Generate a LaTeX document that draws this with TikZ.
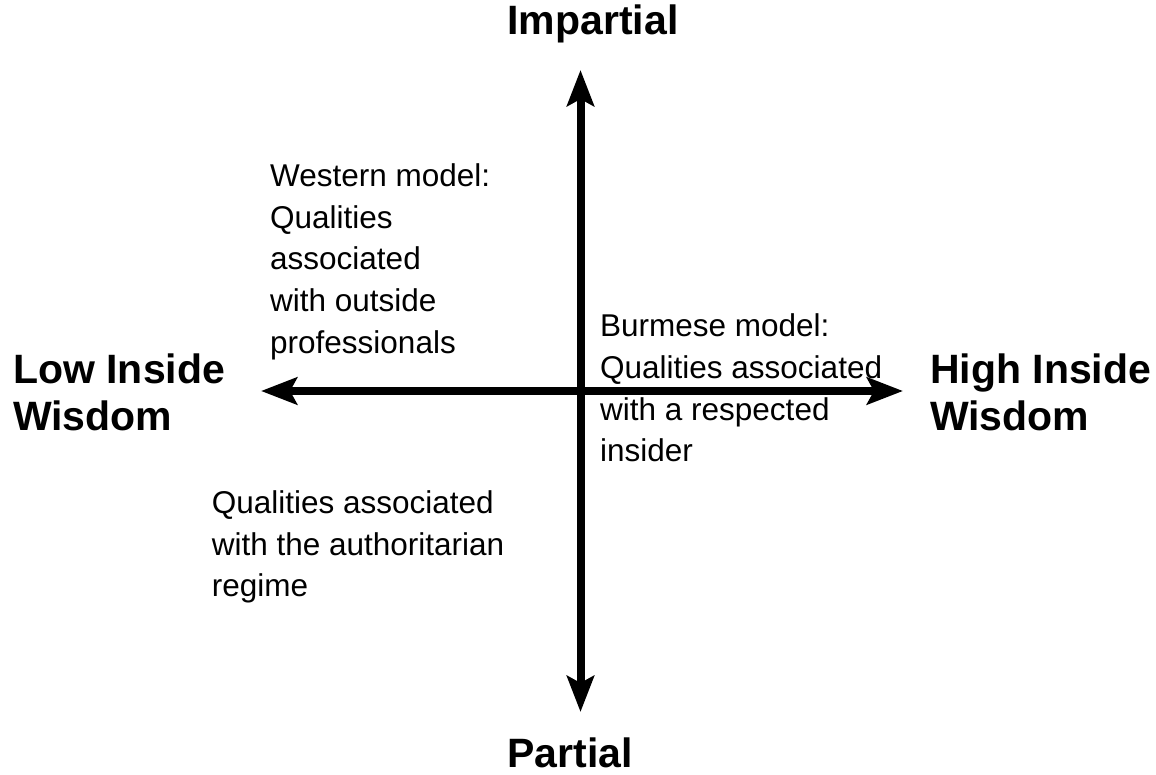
\documentclass[tikz,border=0pt]{standalone}
\usepackage{fontspec}
\setmainfont{Liberation Sans}
\usetikzlibrary{arrows.meta}
\begin{document}
\begin{tikzpicture}[x=1pt, y=-1pt,
    axis/.style={line width=8pt, {Stealth[length=36pt, width=27pt, inset=7pt]}-{Stealth[length=36pt, width=27pt, inset=7pt]}},
    heading/.style={inner sep=0pt, align=left, font=\fontsize{41}{47}\selectfont\bfseries},
    note/.style={inner sep=0pt, align=left, anchor=base west, font=\fontsize{31.5}{41.7}\selectfont}]

    \useasboundingbox (0,0) rectangle (1156,775);

    % Axis ends
    \coordinate (top) at (580.5,70);
    \coordinate (bottom) at (580.5,712);
    \coordinate (left) at (261,391);
    \coordinate (right) at (903,391);

    % Axes
    \draw[axis] (bottom) -- (top);
    \draw[axis] (left) -- (right);

    % Axis labels (base = last line)
    \node[heading, anchor=base] (impartial) at (593,35) {Impartial};
    \node[heading, anchor=base] (partial) at (570,767) {Partial};
    \node[heading, anchor=base west] (lowwisdom) at (13,430) {Low Inside\\Wisdom};
    \node[heading, anchor=base west] (highwisdom) at (930,430) {High Inside\\Wisdom};

    % Quadrant notes
    \node[note] (western) at (270,353.3) {Western model:\\Qualities\\associated\\with outside\\professionals};
    \node[note] (burmese) at (600,461.7) {Burmese model:\\Qualities associated\\with a respected\\insider};
    \node[note] (regime) at (211.7,596.7) {Qualities associated\\with the authoritarian\\regime};

\end{tikzpicture}
\end{document}
